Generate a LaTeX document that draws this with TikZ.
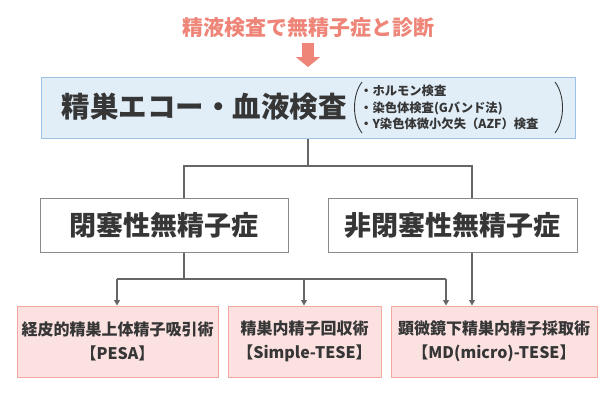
\documentclass[tikz,border=0pt]{standalone}
\usepackage{fontspec}
\setmainfont{Noto Sans CJK JP}
\usetikzlibrary{arrows.meta}
\definecolor{salmon}{HTML}{EE8578}
\definecolor{txt}{HTML}{363636}
\definecolor{bluefill}{HTML}{E1EEF8}
\definecolor{blueline}{HTML}{9DC2E5}
\definecolor{pinkfill}{HTML}{FCE1E1}
\definecolor{pinkline}{HTML}{F3A7A1}
\definecolor{grayline}{HTML}{8A8A8A}
\definecolor{connc}{HTML}{666666}
\tikzset{
  topbox/.style={draw=blueline, fill=bluefill, line width=1pt, minimum width=534pt, minimum height=61pt, inner sep=0pt},
  midbox/.style={draw=grayline, fill=white, line width=1pt, minimum height=54pt, inner sep=0pt, text=txt, font=\fontsize{27}{30}\selectfont\bfseries},
  pinkbox/.style={draw=pinkline, fill=pinkfill, line width=1pt, minimum height=71pt, inner sep=0pt, text=txt, align=center, font=\fontsize{16}{23.5}\selectfont\bfseries},
  conn/.style={draw=connc, line width=1.1pt},
  arr/.style={conn, -{Triangle[width=6pt,length=5.5pt]}},
  bigarrow/.style={draw=salmon, line width=12pt, -{Triangle[width=24pt,length=10pt]}},
}
\begin{document}
\begin{tikzpicture}[x=1pt,y=-1pt]
\useasboundingbox (0,0) rectangle (615,416);
\fill[white] (0,0) rectangle (615,416);
% title and arrow
\node[text=salmon, font=\fontsize{21}{24}\selectfont\bfseries, inner sep=0pt] (title) at (308,28) {精液検査で無精子症と診断};
\coordinate (a1) at (308,43);
\coordinate (a2) at (308,67);
\draw[bigarrow] (a1) -- (a2);
% top box
\node[topbox] (top) at (308,107.5) {};
\node[text=txt, font=\fontsize{28.5}{32}\selectfont\bfseries, inner sep=0pt] (main) at (204,107) {精巣エコー・血液検査};
\node[text=txt, anchor=west, align=left, inner sep=0pt, font=\fontsize{12.3}{16.5}\selectfont\bfseries] (list) at (360,107.5) {・ホルモン検査\\・染色体検査(Gバンド法)\\・Y染色体微小欠失（AZF）検査};
\coordinate (lp1) at (362,82);
\coordinate (lp2) at (362,133);
\coordinate (rp1) at (555,82);
\coordinate (rp2) at (555,133);
\draw[txt, line width=0.9pt] (lp1) .. controls (352,95) and (352,120) .. (lp2);
\draw[txt, line width=0.9pt] (rp1) .. controls (565,95) and (565,120) .. (rp2);
% level 2
\node[midbox, minimum width=248pt] (obs) at (164,225) {閉塞性無精子症};
\node[midbox, minimum width=249pt] (nobs) at (452.5,225) {非閉塞性無精子症};
% level 3
\node[pinkbox, minimum width=201pt] (p1) at (117.5,341.5) {経皮的精巣上体精子吸引術\\【PESA】};
\node[pinkbox, minimum width=153pt] (p2) at (304.5,341.5) {精巣内精子回収術\\【Simple-TESE】};
\node[pinkbox, minimum width=206pt] (p3) at (494,341.5) {顕微鏡下精巣内精子採取術\\【MD(micro)-TESE】};
% connectors
\coordinate (j1) at (308,166);
\coordinate (bl) at (184,166);
\coordinate (br) at (472,166);
\draw[conn] (top.south) -- (j1);
\draw[conn] (obs.north -| bl) -- (bl) -- (br) -- (nobs.north -| br);
\coordinate (k1) at (184,279);
\coordinate (kl) at (117,279);
\coordinate (km) at (304,279);
\coordinate (kr) at (446,279);
\draw[conn] (obs.south -| k1) -- (k1);
\draw[conn] (kl) -- (kr);
\draw[arr] (kl) -- (p1.north -| kl);
\draw[arr] (km) -- (p2.north -| km);
\draw[arr] (kr) -- (p3.north -| kr);
\draw[arr] (nobs.south -| br) -- (p3.north -| br);
\end{tikzpicture}
\end{document}
